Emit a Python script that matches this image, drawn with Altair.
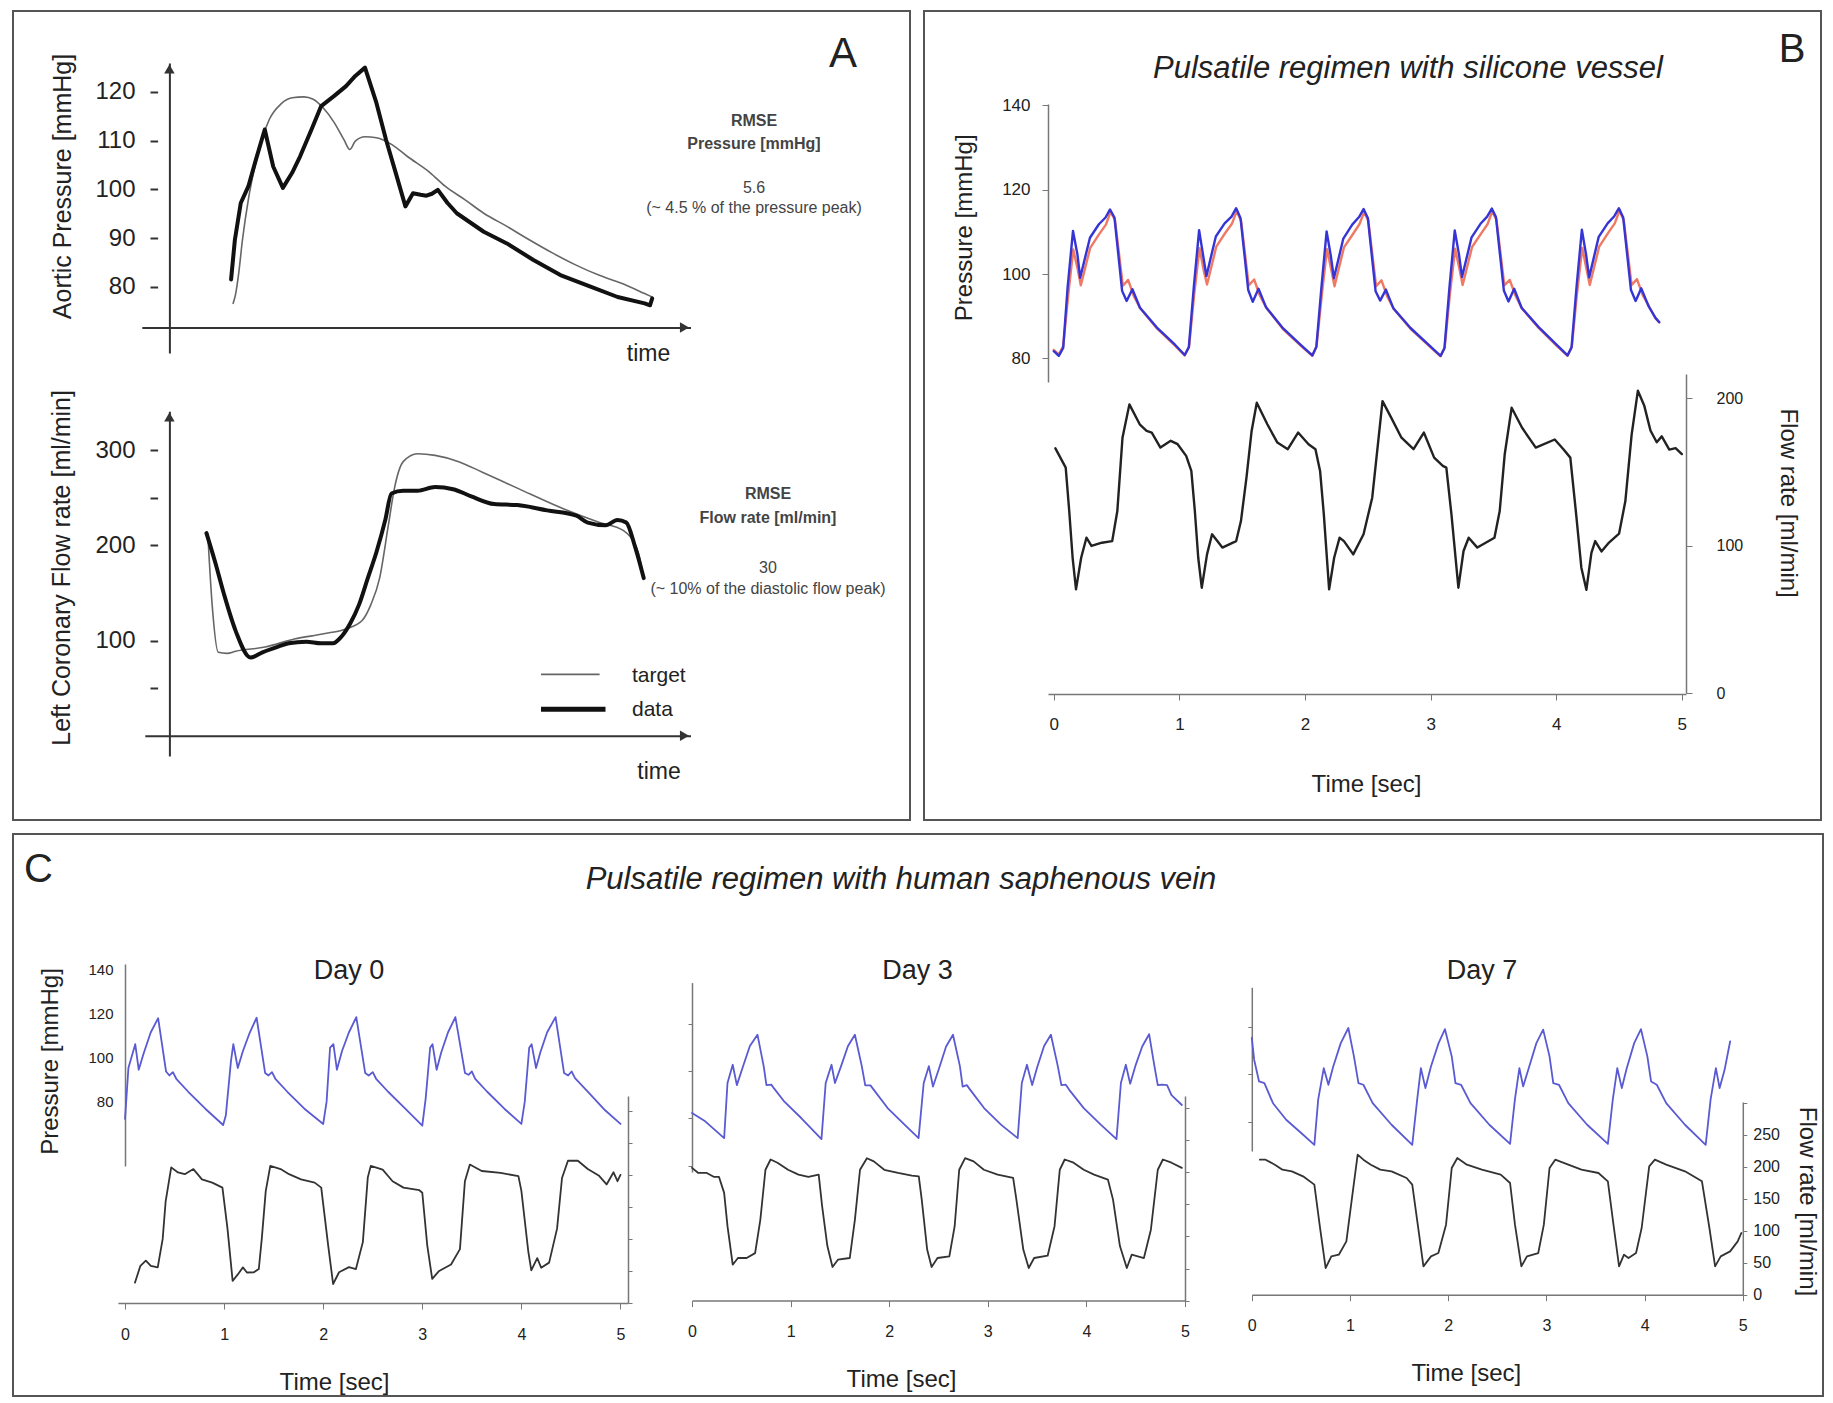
import altair as alt
import pandas as pd

FONT = "Liberation Sans"
INK = "#222222"
AX = "#333333"
GR = "#777777"

# ---------------- Panel A data (normalised time 0-100) ----------------
A_TOP_DATA = [(0, 81.5), (0.9, 89.6), (2.3, 97.2), (4.1, 100.6), (5.9, 106.1), (8.0, 112.3), (10.0, 104.7),
              (12.3, 100.3), (14.5, 103.4), (16.4, 106.8), (19.1, 112.3), (21.4, 117.1), (24.5, 119.2),
              (27.3, 121.2), (29.5, 123.3), (31.8, 125.0), (34.5, 117.8), (36.8, 110.2), (39.1, 103.4),
              (41.4, 96.5), (43.2, 99.2), (45.0, 98.9), (46.4, 98.7), (47.7, 99.1), (49.1, 99.9), (51.4, 97.2),
              (53.6, 95.1), (60.0, 91.3), (65.5, 88.9), (71.8, 85.5), (78.2, 82.4), (85.5, 80.0), (91.8, 77.9),
              (98.2, 76.6), (99.5, 76.2), (100.0, 77.6)]
A_TOP_TARGET = [(0.5, 76.6), (1.1, 78.6), (1.8, 82.7), (2.7, 89.6), (4.1, 97.9), (5.5, 104.1), (7.3, 110.2),
                (9.1, 114.4), (11.8, 117.5), (14.5, 118.8), (17.3, 119.0), (19.5, 118.5), (21.8, 116.8),
                (24.5, 113.7), (26.8, 110.2), (28.2, 108.2), (29.5, 109.9), (31.8, 110.8), (34.5, 110.6),
                (38.2, 109.2), (41.8, 106.8), (47.3, 103.4), (50.9, 100.6), (55.5, 97.9), (60.0, 95.1),
                (65.5, 92.4), (70.9, 89.6), (76.4, 86.9), (81.8, 84.5), (87.3, 82.4), (92.7, 80.7),
                (98.2, 78.6), (100.0, 77.9)]
A_BOT_DATA = [(0, 212.8), (2.0, 182.2), (4.0, 148.9), (6.7, 110.0), (10.1, 82.2), (12.8, 87.8), (16.1, 93.3),
              (18.8, 97.2), (22.8, 98.9), (26.2, 97.2), (28.9, 97.2), (30.9, 104.4), (32.9, 118.3), (34.9, 137.8),
              (36.9, 165.6), (38.9, 193.3), (40.9, 226.7), (42.3, 254.4), (45.0, 257.2), (48.3, 257.2),
              (52.3, 261.1), (56.4, 258.9), (60.4, 251.7), (65.8, 243.3), (71.1, 242.2), (77.9, 236.7),
              (84.6, 231.1), (87.2, 223.9), (91.3, 221.1), (94.0, 226.7), (96.0, 223.9), (98.0, 198.9),
              (100.0, 165.6)]
A_BOT_TARGET = [(0.3, 212.0), (1.3, 137.8), (2.7, 87.8), (4.7, 86.7), (6.7, 88.9), (13.4, 93.3), (20.1, 101.7),
                (26.8, 107.2), (32.2, 112.8), (35.6, 121.1), (37.6, 137.8), (39.6, 165.6), (41.6, 221.1),
                (43.0, 260.0), (45.0, 287.8), (48.3, 296.1), (52.3, 294.4), (57.7, 287.8), (63.1, 276.7),
                (71.1, 260.0), (81.9, 237.8), (89.9, 223.9), (95.3, 215.6), (98.7, 193.3), (100.0, 165.6)]
A_P_TICKS = [80, 90, 100, 110, 120]
A_F_TICKS = [50, 100, 200, 250, 300]

# ---------------- Panel B data (time in s) ----------------
B_P_BLUE = [(0.000, 81.7), (0.040, 80.6), (0.075, 82.5), (0.110, 96.8), (0.153, 110.2), (0.188, 104.7), (0.210, 99.1),
            (0.288, 108.6), (0.359, 111.8), (0.412, 113.4), (0.448, 115.3), (0.483, 113.4), (0.544, 96.0),
            (0.580, 93.6), (0.626, 96.4), (0.686, 92.0), (0.821, 87.3), (0.963, 83.3), (1.042, 80.8),
            (1.075, 82.6), (1.115, 97.0), (1.157, 110.4), (1.190, 104.2), (1.215, 99.5), (1.290, 108.9),
            (1.360, 112.0), (1.415, 113.6), (1.452, 115.6), (1.487, 113.2), (1.548, 96.2), (1.584, 93.4),
            (1.630, 96.5), (1.690, 92.1), (1.826, 87.1), (1.970, 83.1), (2.058, 80.7),
            (2.090, 82.7), (2.130, 96.6), (2.172, 110.1), (2.205, 104.4), (2.230, 99.0), (2.305, 108.4),
            (2.376, 111.7), (2.430, 113.5), (2.466, 115.4), (2.500, 113.3), (2.562, 95.9), (2.598, 93.7),
            (2.644, 96.3), (2.703, 91.9), (2.840, 87.2), (2.985, 83.2), (3.079, 80.6),
            (3.110, 82.4), (3.150, 96.9), (3.192, 110.3), (3.226, 104.6), (3.250, 99.3), (3.326, 108.7),
            (3.397, 111.9), (3.450, 113.6), (3.487, 115.5), (3.520, 113.5), (3.583, 96.1), (3.620, 93.5),
            (3.665, 96.5), (3.724, 92.0), (3.860, 87.4), (4.000, 83.3), (4.090, 80.7),
            (4.122, 82.6), (4.162, 97.1), (4.204, 110.5), (4.238, 104.5), (4.262, 99.2), (4.338, 108.8),
            (4.409, 112.0), (4.462, 113.7), (4.499, 115.6), (4.533, 113.4), (4.595, 96.2), (4.632, 93.6),
            (4.677, 96.6), (4.736, 92.3), (4.790, 89.6), (4.820, 88.6)]
B_P_RED = [(0.000, 82.0), (0.040, 80.9), (0.075, 82.9), (0.115, 95.0), (0.155, 105.8), (0.190, 101.2), (0.215, 97.3),
           (0.290, 106.2), (0.360, 109.4), (0.415, 111.7), (0.452, 114.7), (0.487, 112.8), (0.550, 97.2),
           (0.592, 98.6), (0.636, 94.8), (0.690, 91.8), (0.821, 87.1), (0.963, 83.1), (1.042, 80.7),
           (1.077, 82.8), (1.118, 95.2), (1.160, 106.1), (1.194, 100.8), (1.220, 97.5), (1.294, 106.5),
           (1.362, 109.6), (1.418, 111.9), (1.456, 114.9), (1.491, 112.6), (1.552, 97.3), (1.595, 98.7),
           (1.640, 94.9), (1.694, 91.9), (1.826, 86.9), (1.970, 82.9), (2.058, 80.6),
           (2.092, 82.9), (2.133, 94.8), (2.175, 105.9), (2.210, 100.9), (2.235, 97.1), (2.310, 106.3),
           (2.378, 109.3), (2.433, 111.8), (2.470, 114.6), (2.504, 112.7), (2.566, 97.1), (2.609, 98.5),
           (2.654, 94.7), (2.707, 91.7), (2.840, 87.0), (2.985, 83.0), (3.079, 80.5),
           (3.112, 82.6), (3.153, 95.1), (3.195, 106.0), (3.230, 101.1), (3.255, 97.4), (3.330, 106.4),
           (3.400, 109.5), (3.453, 111.8), (3.490, 114.8), (3.524, 112.9), (3.587, 97.3), (3.630, 98.6),
           (3.675, 94.9), (3.728, 91.8), (3.860, 87.2), (4.000, 83.1), (4.090, 80.6),
           (4.124, 82.8), (4.165, 95.3), (4.207, 106.2), (4.242, 101.0), (4.267, 97.4), (4.342, 106.5),
           (4.412, 109.7), (4.466, 112.0), (4.503, 115.0), (4.537, 112.8), (4.600, 97.4), (4.643, 98.8),
           (4.688, 95.0), (4.740, 92.3), (4.790, 89.5), (4.820, 88.5)]
B_FLOW = [(0.013, 165.9), (0.095, 152.8), (0.123, 123.4), (0.150, 91.7), (0.177, 70.3), (0.218, 91.7), (0.260, 105.3),
          (0.300, 99.7), (0.383, 101.9), (0.465, 103.0), (0.506, 123.4), (0.547, 173.1), (0.602, 195.7),
          (0.684, 182.2), (0.739, 177.7), (0.780, 176.6), (0.849, 166.4), (0.931, 171.0), (0.986, 168.7),
          (1.054, 160.8), (1.095, 150.6), (1.123, 123.4), (1.150, 91.7), (1.178, 71.4), (1.220, 94.0),
          (1.260, 107.6), (1.342, 98.6), (1.452, 103.0), (1.490, 116.6), (1.534, 146.0), (1.575, 177.7),
          (1.616, 196.8), (1.700, 182.2), (1.780, 169.8), (1.863, 165.3), (1.945, 176.6), (2.028, 168.7),
          (2.083, 165.3), (2.120, 150.6), (2.150, 121.0), (2.192, 70.3), (2.232, 91.7), (2.275, 105.3),
          (2.310, 103.0), (2.384, 94.0), (2.466, 107.6), (2.535, 132.4), (2.617, 197.9), (2.686, 186.7),
          (2.768, 173.1), (2.864, 165.3), (2.946, 176.6), (3.028, 159.6), (3.097, 154.0), (3.125, 152.8),
          (3.166, 121.0), (3.221, 71.4), (3.262, 96.3), (3.303, 105.3), (3.372, 98.6), (3.508, 105.3),
          (3.550, 123.4), (3.590, 161.9), (3.645, 193.4), (3.727, 180.0), (3.837, 166.4), (3.988, 171.9),
          (4.057, 165.3), (4.112, 159.6), (4.160, 120.0), (4.200, 85.0), (4.240, 70.0), (4.280, 95.0),
          (4.310, 103.0), (4.360, 96.0), (4.420, 102.0), (4.500, 108.0), (4.550, 130.0), (4.600, 175.0),
          (4.650, 205.0), (4.700, 195.0), (4.750, 178.0), (4.800, 170.0), (4.840, 174.0), (4.900, 165.0),
          (4.950, 166.0), (5.000, 162.0)]

# ---------------- Panel C data (time in s) ----------------
C0_P = [(0.000, 72.3), (0.034, 95.4), (0.103, 106.2), (0.138, 94.6), (0.190, 102.3), (0.259, 111.5), (0.334, 118.0),
        (0.414, 93.8), (0.448, 92.0), (0.483, 93.5), (0.517, 90.5), (0.638, 84.6), (0.810, 76.9), (0.990, 69.5),
        (1.017, 73.8), (1.069, 98.5), (1.093, 106.2), (1.138, 95.4), (1.190, 103.1), (1.259, 111.5), (1.328, 118.2),
        (1.414, 93.1), (1.448, 92.0), (1.483, 93.5), (1.517, 90.5), (1.638, 84.6), (1.810, 76.9), (2.000, 70.0),
        (2.034, 80.0), (2.069, 104.6), (2.103, 106.2), (2.138, 94.6), (2.190, 103.1), (2.259, 111.5), (2.334, 118.5),
        (2.424, 93.1), (2.459, 92.0), (2.500, 93.5), (2.534, 90.5), (2.655, 84.6), (2.828, 76.9), (3.000, 69.2),
        (3.034, 81.5), (3.079, 104.6), (3.103, 106.2), (3.145, 94.6), (3.190, 102.3), (3.259, 111.5), (3.334, 118.5),
        (3.431, 93.1), (3.466, 92.3), (3.500, 93.8), (3.534, 90.5), (3.655, 84.6), (3.828, 76.9), (4.000, 70.0),
        (4.034, 80.0), (4.079, 104.6), (4.103, 106.2), (4.148, 95.4), (4.190, 102.3), (4.259, 111.5), (4.345, 118.5),
        (4.431, 93.1), (4.472, 92.0), (4.507, 93.8), (4.541, 90.8), (4.672, 84.6), (4.845, 76.2), (5.000, 70.0)]
C0_F = [(0.100, 31.7), (0.155, 58.0), (0.210, 66.0), (0.260, 58.0), (0.330, 55.6), (0.380, 100.0), (0.410, 158.7),
        (0.466, 211.6), (0.534, 203.7), (0.603, 201.0), (0.690, 209.0), (0.776, 193.0), (0.880, 187.8), (0.983, 180.0),
        (1.034, 116.0), (1.086, 34.4), (1.140, 45.0), (1.190, 55.6), (1.230, 47.6), (1.300, 48.0), (1.350, 53.0),
        (1.380, 100.0), (1.420, 174.6), (1.466, 214.0), (1.570, 209.0), (1.655, 201.0), (1.776, 193.0),
        (1.914, 187.8), (1.980, 180.0), (2.050, 90.0), (2.100, 29.6), (2.160, 48.0), (2.260, 56.0), (2.330, 53.0),
        (2.400, 95.0), (2.450, 196.0), (2.480, 214.0), (2.600, 208.0), (2.700, 190.0), (2.810, 180.0),
        (2.970, 176.0), (3.000, 172.0), (3.050, 90.0), (3.100, 37.6), (3.170, 50.0), (3.290, 60.0), (3.380, 84.0),
        (3.430, 190.0), (3.480, 216.0), (3.600, 206.0), (3.790, 203.0), (3.970, 198.0), (4.000, 175.0),
        (4.070, 80.0), (4.100, 51.0), (4.160, 70.0), (4.200, 55.0), (4.280, 63.0), (4.360, 116.0), (4.410, 195.0),
        (4.470, 222.0), (4.570, 222.0), (4.670, 209.0), (4.780, 199.0), (4.860, 185.0), (4.930, 204.0),
        (4.970, 190.0), (5.000, 200.0)]
C3_P = [(0.000, 82.2), (0.134, 78.7), (0.326, 71.6), (0.360, 94.9), (0.413, 102.6), (0.455, 94.0), (0.518, 102.0),
        (0.587, 110.5), (0.664, 115.3), (0.727, 102.0), (0.755, 94.0), (0.804, 94.2), (0.832, 92.6), (0.937, 87.0),
        (1.110, 80.0), (1.313, 71.2), (1.356, 94.9), (1.415, 102.6), (1.450, 94.9), (1.512, 102.0), (1.582, 110.5),
        (1.652, 115.3), (1.722, 102.0), (1.757, 93.9), (1.810, 93.9), (1.844, 92.0), (1.984, 84.3), (2.158, 77.2),
        (2.298, 71.6), (2.350, 94.9), (2.402, 102.0), (2.444, 93.4), (2.507, 101.2), (2.577, 110.3), (2.647, 115.3),
        (2.717, 102.0), (2.745, 93.4), (2.787, 94.0), (2.822, 92.0), (2.962, 84.3), (3.136, 77.2), (3.303, 71.6),
        (3.345, 94.9), (3.397, 102.6), (3.450, 94.0), (3.500, 101.4), (3.571, 110.5), (3.640, 115.3), (3.710, 102.0),
        (3.746, 94.0), (3.791, 94.2), (3.826, 92.0), (3.973, 84.3), (4.148, 77.2), (4.305, 71.2), (4.350, 94.9),
        (4.400, 102.6), (4.444, 94.6), (4.496, 102.0), (4.566, 110.3), (4.636, 115.5), (4.690, 102.0),
        (4.724, 94.0), (4.770, 94.2), (4.818, 94.0), (4.863, 89.8), (4.968, 85.6)]
C3_F = [(0.000, 207.0), (0.064, 199.0), (0.150, 199.0), (0.220, 193.0), (0.273, 193.0), (0.326, 168.0), (0.360, 116.0),
        (0.413, 56.0), (0.466, 66.4), (0.554, 66.4), (0.640, 74.0), (0.693, 126.0), (0.745, 204.0), (0.797, 220.0),
        (0.867, 215.0), (0.974, 204.0), (1.080, 196.5), (1.180, 193.0), (1.285, 196.5), (1.320, 147.0),
        (1.373, 85.0), (1.425, 52.4), (1.480, 63.8), (1.600, 66.4), (1.652, 126.0), (1.704, 204.0), (1.774, 222.0),
        (1.844, 217.0), (1.950, 204.0), (2.090, 199.0), (2.230, 195.0), (2.300, 193.7), (2.330, 157.4),
        (2.385, 79.6), (2.430, 52.4), (2.490, 66.4), (2.610, 69.0), (2.664, 116.0), (2.710, 204.0), (2.770, 222.0),
        (2.856, 217.0), (2.960, 204.0), (3.100, 196.5), (3.257, 191.4), (3.290, 157.4), (3.360, 79.6),
        (3.415, 50.8), (3.470, 66.4), (3.607, 70.0), (3.677, 116.0), (3.730, 204.0), (3.780, 220.0), (3.870, 215.0),
        (3.973, 204.0), (4.078, 196.5), (4.218, 188.7), (4.270, 157.4), (4.340, 85.0), (4.410, 50.8), (4.460, 71.6),
        (4.583, 66.4), (4.654, 110.6), (4.724, 204.0), (4.776, 220.0), (4.863, 215.0), (4.968, 207.0)]
C7_P = [(0.000, 115.4), (0.024, 106.2), (0.074, 97.0), (0.128, 96.3), (0.216, 87.8), (0.350, 80.8), (0.503, 75.2),
        (0.637, 70.2), (0.676, 89.3), (0.733, 102.6), (0.780, 95.6), (0.830, 103.4), (0.906, 113.2), (0.983, 119.6),
        (1.040, 107.6), (1.086, 96.3), (1.136, 95.6), (1.231, 87.8), (1.423, 78.7), (1.634, 70.2), (1.684, 89.3),
        (1.722, 102.6), (1.768, 94.2), (1.825, 103.4), (1.902, 113.2), (1.967, 119.1), (2.036, 107.6), (2.074, 96.3),
        (2.131, 95.6), (2.227, 87.8), (2.419, 78.7), (2.630, 70.6), (2.679, 89.3), (2.725, 102.6), (2.763, 94.9),
        (2.820, 102.6), (2.898, 113.2), (2.967, 118.9), (3.032, 107.6), (3.070, 96.3), (3.128, 95.6), (3.223, 87.8),
        (3.415, 78.7), (3.626, 70.6), (3.676, 89.3), (3.722, 102.6), (3.768, 94.2), (3.818, 102.6), (3.894, 113.2),
        (3.963, 119.1), (4.028, 107.6), (4.066, 97.0), (4.124, 95.6), (4.220, 87.8), (4.411, 78.7), (4.622, 70.2),
        (4.672, 89.3), (4.726, 102.6), (4.764, 94.2), (4.814, 101.8), (4.871, 113.9)]
C7_F = [(0.082, 210.9), (0.140, 210.9), (0.235, 203.1), (0.312, 195.3), (0.408, 192.7), (0.522, 184.9), (0.637, 171.9),
        (0.695, 104.2), (0.752, 41.7), (0.810, 59.9), (0.886, 62.5), (0.963, 83.3), (1.020, 151.0), (1.078, 218.8),
        (1.136, 210.9), (1.212, 203.1), (1.308, 195.3), (1.423, 192.7), (1.576, 182.3), (1.634, 171.9),
        (1.690, 109.4), (1.748, 44.3), (1.825, 59.9), (1.900, 65.1), (1.978, 109.4), (2.036, 197.9), (2.093, 213.5),
        (2.190, 203.1), (2.343, 195.3), (2.535, 187.5), (2.630, 174.5), (2.680, 109.4), (2.745, 44.3),
        (2.802, 59.9), (2.917, 65.1), (2.974, 109.4), (3.032, 197.9), (3.090, 210.9), (3.223, 203.1),
        (3.357, 195.3), (3.530, 190.1), (3.626, 177.1), (3.683, 109.4), (3.740, 44.3), (3.790, 62.5), (3.836, 57.3),
        (3.913, 65.1), (3.970, 104.2), (4.047, 200.5), (4.105, 210.9), (4.220, 203.1), (4.411, 192.7),
        (4.584, 177.1), (4.660, 104.2), (4.718, 44.3), (4.775, 59.9), (4.871, 67.7), (4.948, 83.3), (4.985, 96.4)]
TIME_TICKS = [0, 1, 2, 3, 4, 5]
C_P_TICKS = [80, 100, 120, 140]
C_F_TICKS = [0, 50, 100, 150, 200, 250, 300]

# ---------------- helpers ----------------
A_W, A_H = 897, 809
B_W, B_H = 897, 809
C_W, C_H = 1810, 562


def sc(d, r):
    return alt.Scale(domain=d, range=r, nice=False, zero=False)


def trace(pairs, xs, ys, color, width, interp="linear"):
    df = pd.DataFrame(pairs, columns=["t", "v"])
    return alt.Chart(df).mark_line(color=color, strokeWidth=width, strokeJoin="round", strokeCap="round",
                                   interpolate=interp).encode(
        x=alt.X("t:Q", scale=xs, axis=None), y=alt.Y("v:Q", scale=ys, axis=None))


def axes(xs, ys, xaxis=None, yaxis=None):
    df = pd.DataFrame({"t": [xs.domain[0], xs.domain[1]], "v": [ys.domain[0], ys.domain[1]]})
    return alt.Chart(df).mark_point(opacity=0).encode(
        x=alt.X("t:Q", scale=xs, axis=xaxis), y=alt.Y("v:Q", scale=ys, axis=yaxis))


def ax(orient, offset, **kw):
    base = dict(orient=orient, offset=offset, grid=False, labelFlush=False, title=None)
    base.update(kw)
    return alt.Axis(**base)


def txt(s, x, y, size, weight="normal", style="normal", align="center", color=INK, angle=0):
    return alt.Chart(pd.DataFrame({"s": [s]})).mark_text(
        font=FONT, fontSize=size, fontWeight=weight, fontStyle=style, align=align,
        baseline="middle", color=color, angle=angle).encode(
        x=alt.value(x), y=alt.value(y), text="s:N")


def arrow(x, y, shape):
    return alt.Chart(pd.DataFrame({"a": [0]})).mark_point(
        shape=shape, filled=True, size=110, color=AX, opacity=1).encode(x=alt.value(x), y=alt.value(y))


def seg(x1, x2, y, width, color):
    return alt.Chart(pd.DataFrame({"a": [0]})).mark_rule(strokeWidth=width, color=color).encode(
        x=alt.value(x1), x2=alt.value(x2), y=alt.value(y))


def panel(layers, w, h):
    return alt.layer(*layers).resolve_scale(x="independent", y="independent").resolve_axis(
        x="independent", y="independent").properties(width=w, height=h)


# ---------------- Panel A ----------------
xa1 = sc([-21.2, 109.1], [128.8, 677.5])
ya1 = sc([66.4, 125.95], [342, 52])
xa2 = sc([-14.1, 110.7], [131.8, 677.5])
ya2 = sc([-21.0, 340.6], [745, 400.3])

A_layers = [
    trace(A_TOP_TARGET, xa1, ya1, "#666666", 1.6, "monotone"),
    trace(A_TOP_DATA, xa1, ya1, "#111111", 4),
    axes(xa1, ya1,
         xaxis=ax("bottom", -(A_H - 316.6), domain=True, domainWidth=2, domainColor=AX, ticks=False, labels=False,
                  title="time", titleFontSize=23, titleX=635, titleY=25.4, titleAlign="center",
                  titleBaseline="middle"),
         yaxis=ax("left", -156.4, domain=True, domainWidth=2, domainColor=AX, ticks=False, labels=False)),
    axes(xa1, ya1,
         yaxis=ax("left", -144.6, domain=False, ticks=True, tickSize=7.6, tickWidth=2, tickColor=AX,
                  values=A_P_TICKS, labelFontSize=24, labelPadding=15, title="Aortic Pressure [mmHg]",
                  titleFontSize=25, titleAngle=270, titleX=-95.1, titleY=175, titleAlign="center",
                  titleBaseline="middle")),
    trace(A_BOT_TARGET, xa2, ya2, "#666666", 1.6, "monotone"),
    trace(A_BOT_DATA, xa2, ya2, "#111111", 4, "monotone"),
    axes(xa2, ya2,
         xaxis=ax("bottom", -(A_H - 724.8), domain=True, domainWidth=2, domainColor=AX, ticks=False, labels=False,
                  title="time", titleFontSize=23, titleX=645.5, titleY=35.2, titleAlign="center",
                  titleBaseline="middle"),
         yaxis=ax("left", -156.4, domain=True, domainWidth=2, domainColor=AX, ticks=False, labels=False)),
    axes(xa2, ya2,
         yaxis=ax("left", -144.6, domain=False, ticks=True, tickSize=7.6, tickWidth=2, tickColor=AX,
                  values=A_F_TICKS, labelExpr="datum.value % 100 == 0 ? datum.label : ''",
                  labelFontSize=24, labelPadding=15, title="Left Coronary Flow rate [ml/min]",
                  titleFontSize=25, titleAngle=270, titleX=-96.6, titleY=556.4, titleAlign="center",
                  titleBaseline="middle")),
    arrow(156.4, 58, "triangle-up"),
    arrow(671.5, 316.6, "triangle-right"),
    arrow(156.4, 406, "triangle-up"),
    arrow(671.5, 724.8, "triangle-right"),
    seg(528, 586.6, 663.4, 1.6, "#666666"),
    seg(528, 592.5, 698.3, 5, "#111111"),
    txt("target", 619, 665, 21, align="left"),
    txt("data", 619, 699.4, 21, align="left"),
    txt("A", 830, 43, 42),
    txt("RMSE", 741, 110, 16, weight="bold", color="#444444"),
    txt("Pressure [mmHg]", 741, 133, 16, weight="bold", color="#444444"),
    txt("5.6", 741, 177, 16, color="#444444"),
    txt("(~ 4.5 %  of the pressure peak)", 741, 197, 16, color="#444444"),
    txt("RMSE", 755, 483, 16, weight="bold", color="#444444"),
    txt("Flow rate [ml/min]", 755, 507, 16, weight="bold", color="#444444"),
    txt("30", 755, 557, 16, color="#444444"),
    txt("(~ 10%  of the diastolic flow peak)", 755, 578, 16, color="#444444"),
]
A = panel(A_layers, A_W, A_H)

# ---------------- Panel B ----------------
xb = sc([-0.046, 5.033], [124, 762])
ybp = sc([74.4, 140.3], [371, 93])
ybf = sc([0, 216.3], [682, 363])

B_layers = [
    trace(B_P_RED, xb, ybp, "#ee7a66", 2.4),
    trace(B_P_BLUE, xb, ybp, "#3535d6", 2.4),
    trace(B_FLOW, xb, ybf, "#222222", 2.4),
    axes(xb, ybp,
         yaxis=ax("left", -124, domainColor=GR, domainWidth=1.5, tickColor=GR, tickSize=6, values=C_P_TICKS,
                  labelFontSize=17, labelPadding=12, title="Pressure [mmHg]", titleFontSize=24, titleAngle=270,
                  titleX=40 - 124, titleY=216.3, titleAlign="center", titleBaseline="middle")),
    axes(xb, ybf,
         xaxis=ax("bottom", -(B_H - 683), domainColor=GR, domainWidth=1.5, tickColor=GR, tickSize=6,
                  values=TIME_TICKS, labelFontSize=17, labelPadding=16, title="Time [sec]", titleFontSize=24,
                  titleX=442, titleY=773.5 - 683, titleAlign="center", titleBaseline="middle"),
         yaxis=ax("right", -(B_W - 762), domainColor=GR, domainWidth=1.5, tickColor=GR, tickSize=6,
                  values=[0, 100, 200], labelFontSize=16, labelPadding=24, title="Flow rate  [ml/min]",
                  titleFontSize=24, titleAngle=90, titleX=863.5 - 762, titleY=491.6, titleAlign="center",
                  titleBaseline="middle")),
    txt("Pulsatile regimen with silicone vessel", 484, 57.8, 31, style="italic"),
    txt("B", 868, 38.7, 40),
]
B = panel(B_layers, B_W, B_H)

# ---------------- Panel C ----------------
xc0 = sc([-0.072, 5.076], [104.9, 615])
yc0p = sc([50.9, 142.6], [332, 130])
yc0f = sc([0, 323], [469, 262])
xc3 = sc([0, 5], [679, 1172])
yc3p = sc([57.3, 137.3], [338, 148.6])
yc3f = sc([0, 319], [466.6, 262])
xc7 = sc([0, 5], [1238.8, 1729.8])
yc7p = sc([67.6, 136.8], [317, 153.3])
yc7f = sc([0, 301], [460.7, 268])

CBLUE = "#5a5ad2"
CGRAY = "#333333"


def xaxis_c(axis_y, title_x, title_y):
    return ax("bottom", -(C_H - axis_y), domainColor=GR, domainWidth=1.5, tickColor=GR, tickSize=6,
              values=TIME_TICKS, labelFontSize=16, labelPadding=17, title="Time [sec]", titleFontSize=24,
              titleX=title_x, titleY=title_y, titleAlign="center", titleBaseline="middle")


C_layers = [
    trace(C0_P, xc0, yc0p, CBLUE, 1.8),
    trace(C0_F, xc0, yc0f, CGRAY, 1.8),
    axes(xc0, yc0p,
         yaxis=ax("left", -112, domainColor=GR, domainWidth=1.5, ticks=False, values=C_P_TICKS,
                  labelFontSize=15, labelPadding=12, title="Pressure [mmHg]", titleFontSize=24, titleAngle=270,
                  titleX=37 - 112, titleY=227, titleAlign="center", titleBaseline="middle")),
    axes(xc0, yc0f, xaxis=xaxis_c(469, 321, 79),
         yaxis=ax("right", -(C_W - 615), domainColor=GR, domainWidth=1.5, tickColor=GR, tickSize=4,
                  values=C_F_TICKS, labels=False)),
    trace(C3_P, xc3, yc3p, CBLUE, 1.8),
    trace(C3_F, xc3, yc3f, CGRAY, 1.8),
    axes(xc3, yc3p,
         yaxis=ax("left", -679, domainColor=GR, domainWidth=1.5, tickColor=GR, tickSize=4,
                  values=[60, 80, 100, 120], labels=False)),
    axes(xc3, yc3f, xaxis=xaxis_c(466.6, 888, 78.4),
         yaxis=ax("right", -(C_W - 1172), domainColor=GR, domainWidth=1.5, tickColor=GR, tickSize=4,
                  values=C_F_TICKS, labels=False)),
    trace(C7_P, xc7, yc7p, CBLUE, 1.8),
    trace(C7_F, xc7, yc7f, CGRAY, 1.8),
    axes(xc7, yc7p,
         yaxis=ax("left", -1238.8, domainColor=GR, domainWidth=1.5, tickColor=GR, tickSize=4,
                  values=[80, 100, 120], labels=False)),
    axes(xc7, yc7f, xaxis=xaxis_c(460.7, 1452.8, 78.3),
         yaxis=ax("right", -(C_W - 1729.8), domainColor=GR, domainWidth=1.5, tickColor=GR, tickSize=4,
                  values=C_F_TICKS, labelExpr="datum.value == 300 ? '' : datum.label", labelFontSize=16,
                  labelPadding=6, title="Flow rate  [ml/min]", titleFontSize=24, titleAngle=90, titleX=64,
                  titleY=367, titleAlign="center", titleBaseline="middle")),
    txt("Pulsatile regimen with human saphenous vein", 888, 45.8, 31, style="italic"),
    txt("C", 25.4, 36.4, 40),
    txt("Day 0", 336, 137, 27),
    txt("Day 3", 904.5, 137, 27),
    txt("Day 7", 1469, 137, 27),
]
C = panel(C_layers, C_W, C_H)

chart = alt.vconcat(alt.hconcat(A, B, spacing=12), C, spacing=12).properties(
    padding={"left": 4, "top": 2, "right": 0, "bottom": 0}
).configure_view(stroke="#555555", strokeWidth=2).configure_axis(
    labelFont=FONT, titleFont=FONT, labelColor=INK, titleColor=INK, titleFontWeight="normal",
    grid=False, labelFlush=False)

chart.save("out.html", embed_options={"renderer": "svg", "actions": False})
